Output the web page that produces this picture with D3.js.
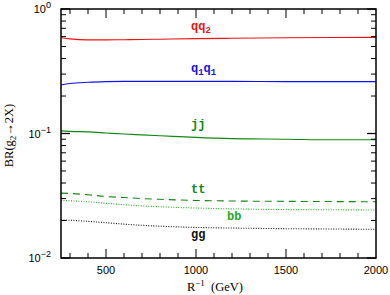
<!DOCTYPE html>
<html><head><meta charset="utf-8">
<script src="https://cdn.jsdelivr.net/npm/d3@7"></script>
<style>body{margin:0;background:#fff}svg{display:block}</style>
</head><body>
<svg id="c" width="390" height="295"></svg>
<script>
const xVals = [250, 300, 400, 500, 600, 700, 800, 1000, 1200, 1500, 1750, 2000];
const qq2  = [0.590, 0.575, 0.565, 0.565, 0.567, 0.569, 0.572, 0.578, 0.582, 0.587, 0.590, 0.592];
const q1q1 = [0.245, 0.252, 0.258, 0.261, 0.262, 0.262, 0.262, 0.262, 0.262, 0.261, 0.261, 0.261];
const jj   = [0.105, 0.104, 0.103, 0.101, 0.099, 0.0975, 0.096, 0.093, 0.091, 0.090, 0.089, 0.089];
const tt   = [0.0332, 0.0330, 0.0322, 0.0312, 0.0306, 0.0300, 0.0296, 0.0290, 0.0287, 0.0285, 0.0284, 0.0283];
const bb   = [0.0290, 0.0288, 0.0283, 0.0275, 0.0268, 0.0262, 0.0258, 0.0252, 0.0248, 0.0245, 0.0244, 0.0243];
const gg   = [0.0202, 0.0201, 0.0197, 0.0192, 0.0187, 0.0183, 0.0180, 0.0176, 0.0174, 0.0172, 0.0171, 0.0170];
const xTicks = [500, 1000, 1500, 2000];
const yTicks = [1, 0.1, 0.01];
const yTickExp = ["0", "\u22121", "\u22122"];

const series = [
  {name:"qq2", vals:qq2, color:"#ee1111", dash:null, w:1.1, lab:["qq","2"], lx:1000, ly:0.678},
  {name:"q1q1", vals:q1q1, color:"#1111ee", dash:null, w:1.1, lab:["q","1","q","1"], lx:1000, ly:0.312},
  {name:"jj", vals:jj, color:"#118811", dash:null, w:1.1, lab:["jj"], lx:1000, ly:0.111},
  {name:"tt", vals:tt, color:"#118811", dash:"7,5", w:1.1, lab:["tt"], lx:1000, ly:0.0333},
  {name:"bb", vals:bb, color:"#22aa22", dash:"1,1.5", w:1.1, lab:["bb"], lx:1200, ly:0.0202},
  {name:"gg", vals:gg, color:"#111111", dash:"1,1.5", w:1.1, lab:["gg"], lx:1000, ly:0.0144}
];

const L=61, R=376, T=9, B=258;
const x = d3.scaleLinear().domain([250,2000]).range([L,R]);
const y = d3.scaleLog().domain([0.01,1]).range([B,T]);
const svg = d3.select("#c");

// curves
const line = d3.line().x((d,i)=>x(xVals[i])).y(d=>y(d)).curve(d3.curveMonotoneX);
series.forEach(s=>{
  svg.append("path").attr("d", line(s.vals)).attr("fill","none")
    .attr("stroke", s.color).attr("stroke-width", s.w)
    .attr("stroke-dasharray", s.dash);
});

// labels
series.forEach(s=>{
  const t = svg.append("text").attr("x", x(s.lx)-5).attr("y", y(s.ly))
    .attr("fill", s.color).attr("font-family","Liberation Mono, DejaVu Sans Mono, monospace")
    .attr("font-size", 12).attr("font-weight","bold");
  if (s.lab.length===1) t.text(s.lab[0]);
  else {
    for (let i=0;i<s.lab.length;i+=2){
      t.append("tspan").attr("dy", i===0?0:-3).text(s.lab[i]);
      t.append("tspan").attr("dy",3).attr("font-size",9).text(s.lab[i+1]);
    }
  }
});

// frame
svg.append("rect").attr("x",L).attr("y",T).attr("width",R-L).attr("height",B-T)
  .attr("fill","none").attr("stroke","#000").attr("stroke-width",1.5);

// x ticks
const minorX = d3.range(300, 2000, 100);
minorX.forEach(v=>{
  const isMaj = xTicks.includes(v);
  const len = isMaj ? 9 : 5;
  svg.append("line").attr("x1",x(v)).attr("x2",x(v)).attr("y1",B).attr("y2",B-len).attr("stroke","#000").attr("stroke-width",1);
  svg.append("line").attr("x1",x(v)).attr("x2",x(v)).attr("y1",T).attr("y2",T+len).attr("stroke","#000").attr("stroke-width",1);
});
xTicks.forEach(v=>{
  svg.append("text").attr("x",x(v)).attr("y",B+16).attr("text-anchor","middle")
    .attr("font-family","Liberation Sans, Arial, sans-serif").attr("font-size",11).text(v);
});

// y ticks
[0.01,0.1].forEach(dec=>{
  for (let k=2;k<=9;k++){
    const v=dec*k;
    svg.append("line").attr("x1",L).attr("x2",L+5).attr("y1",y(v)).attr("y2",y(v)).attr("stroke","#000");
    svg.append("line").attr("x1",R).attr("x2",R-5).attr("y1",y(v)).attr("y2",y(v)).attr("stroke","#000");
  }
});
yTicks.forEach((v,i)=>{
  svg.append("line").attr("x1",L).attr("x2",L+9).attr("y1",y(v)).attr("y2",y(v)).attr("stroke","#000").attr("stroke-width",1.3);
  svg.append("line").attr("x1",R).attr("x2",R-9).attr("y1",y(v)).attr("y2",y(v)).attr("stroke","#000").attr("stroke-width",1.3);
  const t = svg.append("text").attr("x",L-10).attr("y",y(v)+4).attr("text-anchor","end")
    .attr("font-family","Liberation Sans, Arial, sans-serif").attr("font-size",11);
  t.append("tspan").text("10");
  t.append("tspan").attr("dy",-5).attr("font-size",9).text(yTickExp[i]);
});

// axis titles
const xt = svg.append("text").attr("x",215).attr("y",291).attr("text-anchor","middle")
  .attr("font-family","Liberation Serif, Times New Roman, serif").attr("font-size",12.5);
xt.append("tspan").text("R");
xt.append("tspan").attr("dy",-5).attr("font-size",9).text("\u22121");
xt.append("tspan").attr("dy",5).text("\u2002(GeV)");

const yt = svg.append("text").attr("transform","translate(13,"+((T+B)/2+2)+") rotate(-90)")
  .attr("text-anchor","middle").attr("font-family","Liberation Serif, Times New Roman, serif").attr("font-size",12.5);
yt.append("tspan").text("BR(g");
yt.append("tspan").attr("dy",3).attr("font-size",9).text("2");
yt.append("tspan").attr("dy",-3).text("\u21922X)");
</script>
</body></html>
